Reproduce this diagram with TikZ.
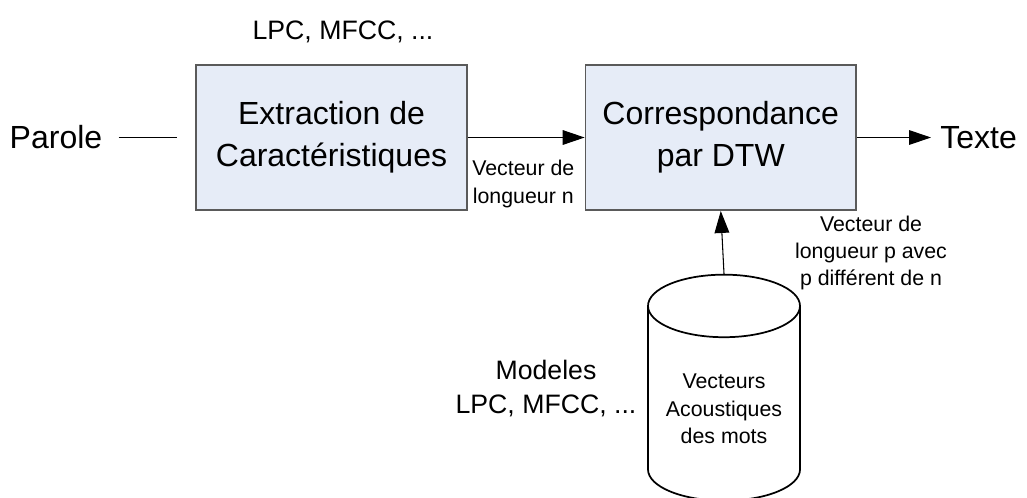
\documentclass[tikz,border=0pt]{standalone}
\usepackage{fontspec}
\setmainfont{Liberation Sans}
\usetikzlibrary{arrows.meta, positioning, shapes.geometric}
\definecolor{boxfill}{RGB}{230,236,247}
\definecolor{boxline}{RGB}{90,90,90}
\tikzset{
    block/.style={draw=boxline, line width=1.2pt, fill=boxfill,
      minimum width=203pt, minimum height=109pt, align=center, font=\bigtext},
    note/.style={align=center, inner sep=0pt, font=\smalltext},
    link/.style={line width=0.8pt, -{Triangle[length=16.5pt, width=11pt]}},
}
\newcommand{\bigtext}{\fontsize{24}{31.5}\selectfont}
\newcommand{\midtext}{\fontsize{20}{25.5}\selectfont}
\newcommand{\smalltext}{\fontsize{16}{20.5}\selectfont}

\begin{document}
\begin{tikzpicture}[x=0.75pt, y=-0.75pt]
    \useasboundingbox (0,0) rectangle (1027,497);

    \node[block] (extract) at (331.5,137.5) {Extraction de\\Caractéristiques};
    \node[block, right=87.75pt of extract] (match) {Correspondance\\par DTW};

    \node[font=\bigtext, inner sep=0pt] (speech) at (56,137.5) {Parole};
    \coordinate (speechend) at (177,137.5);
    \node[font=\bigtext, inner sep=0pt, inner xsep=6.75pt, anchor=west] (text) at (931,137.5) {Texte};

    \node[cylinder, shape border rotate=90, draw, line width=1.3pt, aspect=0.5,
      minimum width=114pt, minimum height=169.5pt, align=center, font=\smalltext]
      (db) at (724,409) {Vecteurs\\Acoustiques\\des mots};

    \draw[line width=0.8pt] ([xshift=12pt]speech.east) -- (speechend);
    \draw[link] (extract) -- (match);
    \draw[link] (match.east) -- (text.west);
    \draw[link] (db.north) -- (match.south);

    \node[font=\midtext, inner sep=0pt] (feat) at (343,32) {LPC, MFCC, ...};
    \node[note, anchor=north west] (lenn) at (472,160) {Vecteur de\\longueur n};
    \node[note] (lenp) at (871,253) {Vecteur de\\longueur p avec\\p différent de n};
    \node[font=\midtext, align=center, inner sep=0pt] (models) at (546,389) {Modeles\\LPC, MFCC, ...};
\end{tikzpicture}
\end{document}
